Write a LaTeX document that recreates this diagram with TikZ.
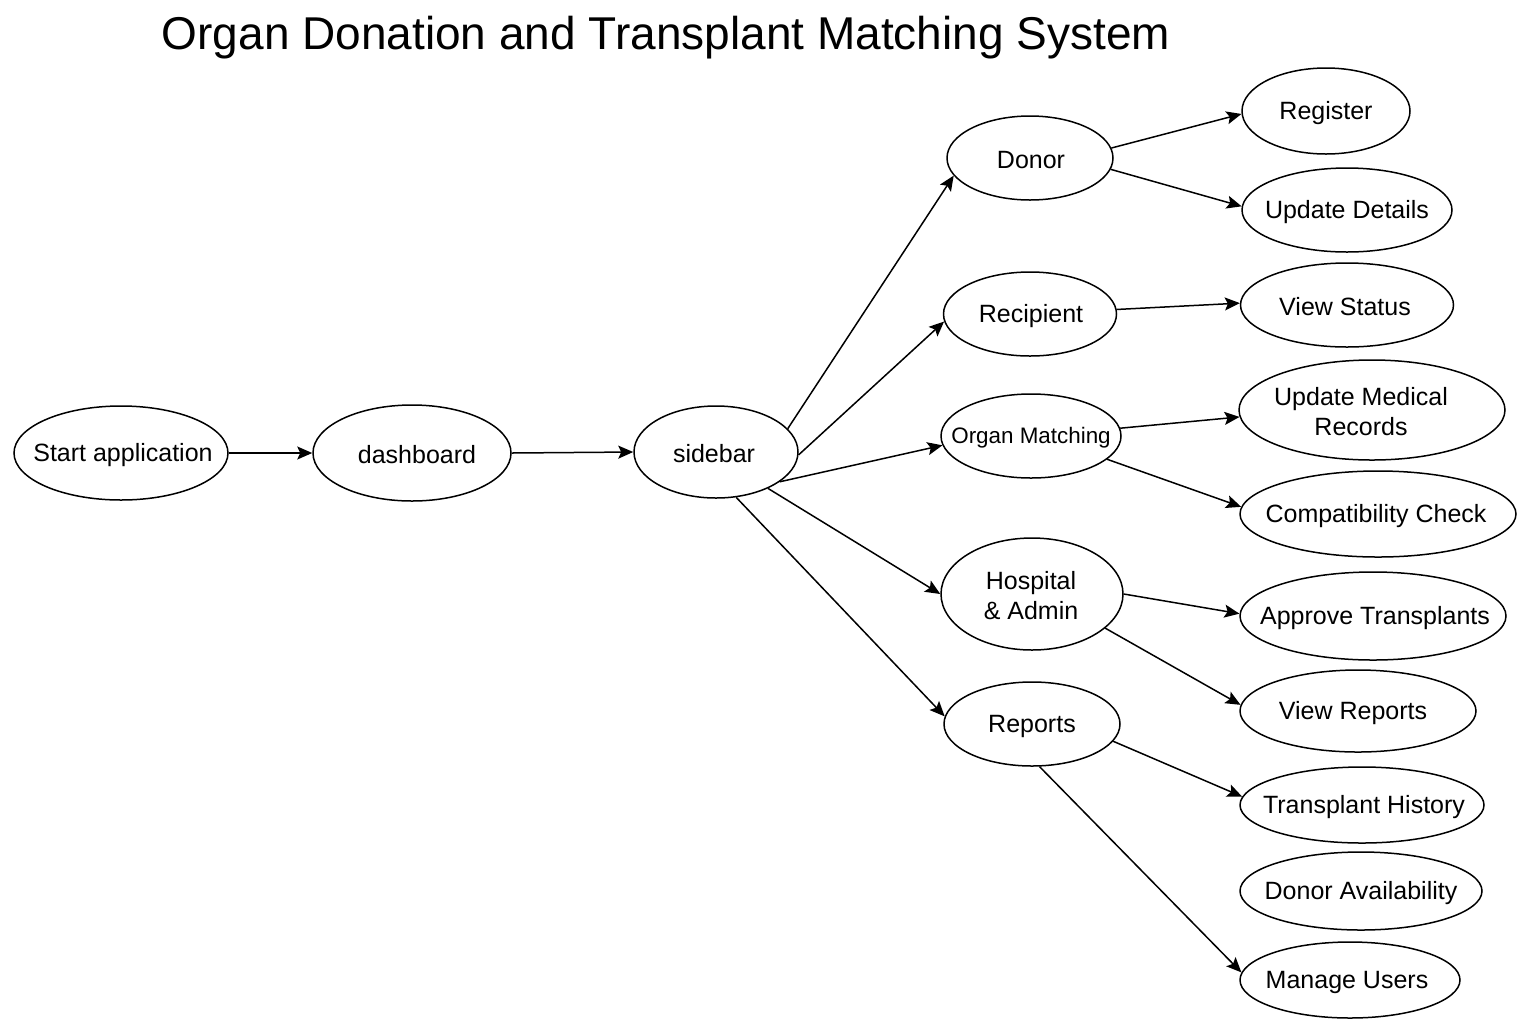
\documentclass[tikz,border=0pt]{standalone}
\usepackage{fontspec}
\setmainfont{Liberation Sans}
\usetikzlibrary{shapes.geometric,arrows.meta}
\begin{document}
\begin{tikzpicture}[x=0.5pt,y=-0.5pt,
  ell/.style={draw,ellipse,line width=0.75pt,inner sep=0pt},
  lbl/.style={align=center,inner sep=0pt,font=\fontsize{12.5}{15}\selectfont},
  con/.style={line width=0.75pt,-{Stealth[length=7.5pt,width=6.5pt,inset=1.5pt]}}]
\useasboundingbox (0,0) rectangle (1536,1024);
\fill[white] (0,0) rectangle (1536,1024);
\node[font=\fontsize{23}{27}\selectfont] (title) at (666,38) {Organ Donation and Transplant Matching System};
\newcommand{\E}[7]{\node[ell,minimum width=#4*0.5pt,minimum height=#5*0.5pt] (#1) at (#2,#3) {};
  \node[lbl] at ([shift={(#7,2)}]#1.center) {#6};}
\E{start}{121}{453}{214}{94}{Start application}{2}
\E{dash}{412}{453}{198}{96}{dashboard}{5}
\E{side}{716}{452}{164}{92}{sidebar}{-2}
\E{donor}{1030}{158}{166}{84}{Donor}{1}
\E{recip}{1030}{314}{173}{84}{Recipient}{1}
\node[ell,minimum width=90pt,minimum height=42pt] (organ) at (1031,436) {};
\node[lbl,font=\fontsize{11.2}{14}\selectfont] at ([shift={(0,2)}]organ.center) {Organ Matching};
\E{hosp}{1032}{594}{182}{112}{Hospital\\\& Admin}{-1}
\E{rep}{1032}{724}{176}{84}{Reports}{0}
\E{register}{1326}{111}{168}{86}{Register}{0}
\E{upd}{1347}{210}{210}{84}{Update Details}{0}
\E{vstat}{1347}{305}{213}{84}{View Status}{-2}
\E{umed}{1372}{410}{266}{100}{Update Medical\\Records}{-11}
\E{compat}{1378}{514}{276}{86}{Compatibility Check}{-2}
\E{approve}{1373}{616}{266}{88}{Approve Transplants}{2}
\E{vrep}{1358}{711}{236}{82}{View Reports}{-5}
\E{thist}{1362}{805}{244}{76}{Transplant History}{2}
\E{davail}{1361}{891}{242}{78}{Donor Availability}{0}
\E{manage}{1350}{980}{220}{76}{Manage Users}{-3}
\draw[con] (start.east) -- (dash.west);
\draw[con] (dash.east) -- (side.west);
\draw[con] (side.18) -- (donor.193);
\draw[con] (side.-2) -- (recip.185);
\draw[con] (side.-25) -- (organ.186);
\draw[con] (side.-35) -- (hosp.west);
\draw[con] (side.-66) -- (rep.175);
\draw[con] (donor.7) -- (register.182);
\draw[con] (donor.-8) -- (upd.178);
\draw[con] (recip.3) -- (vstat.179);
\draw[con] (organ.5) -- (umed.183);
\draw[con] (organ.-17) -- (compat.177);
\draw[con] (hosp.east) -- (approve.179);
\draw[con] (hosp.-25) -- (vrep.177);
\draw[con] (rep.-12) -- (thist.176);
\draw[con] (rep.-80) -- (manage.176);
\end{tikzpicture}
\end{document}
